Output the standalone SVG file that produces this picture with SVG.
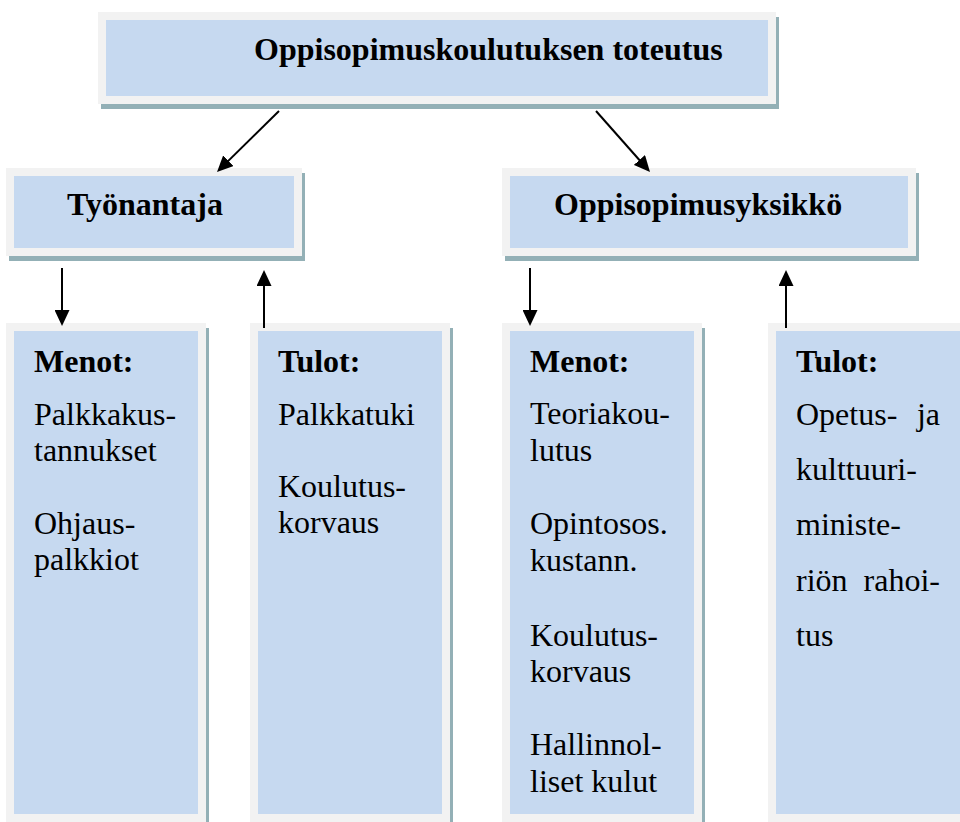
<svg xmlns="http://www.w3.org/2000/svg" width="960" height="822" viewBox="0 0 960 822">
<style>
.sh{fill:#93b0b6}
.out{fill:#f2f2f2}
.in{fill:#c6d9f0}
.t{font-family:"Times New Roman","Liberation Serif",Times,serif;font-size:32px;fill:#000}
.b{font-weight:bold}
.c line{stroke:#000;stroke-width:2}
</style>
<defs>
<marker id="ah" markerUnits="userSpaceOnUse" markerWidth="16" markerHeight="15" viewBox="0 0 16 15" refX="8" refY="7.5" orient="auto">
<path d="M0,0 L16,7.5 L0,15 z" fill="#000"/>
</marker>
</defs>
<rect width="960" height="822" fill="#fff"/>
<g class="t">
<g id="top">
<rect class="sh" x="101" y="17" width="678" height="92"/>
<rect class="out" x="98" y="12" width="678" height="92"/>
<rect class="in" x="106" y="20" width="662" height="76"/>
<text class="b" x="254" y="60">Oppisopimuskoulutuksen toteutus</text>
</g>
<g id="tyonantaja">
<rect class="sh" x="9" y="173" width="296" height="88"/>
<rect class="out" x="6" y="168" width="296" height="88"/>
<rect class="in" x="14" y="176" width="280" height="72"/>
<text class="b" x="67" y="215">Työnantaja</text>
</g>
<g id="yksikko">
<rect class="sh" x="505" y="173" width="414" height="88"/>
<rect class="out" x="502" y="168" width="414" height="88"/>
<rect class="in" x="510" y="176" width="398" height="72"/>
<text class="b" x="554" y="215">Oppisopimusyksikkö</text>
</g>
<g id="t-menot">
<rect class="sh" x="9" y="328" width="200" height="510"/>
<rect class="out" x="6" y="323" width="200" height="510"/>
<rect class="in" x="14" y="331" width="184" height="483"/>
<text class="b" x="34" y="372">Menot:</text>
<text x="34" y="425">Palkkakus-</text>
<text x="34" y="461">tannukset</text>
<text x="34" y="534">Ohjaus-</text>
<text x="34" y="570">palkkiot</text>
</g>
<g id="t-tulot">
<rect class="sh" x="253" y="328" width="200" height="510"/>
<rect class="out" x="250" y="323" width="200" height="510"/>
<rect class="in" x="258" y="331" width="184" height="483"/>
<text class="b" x="278" y="372">Tulot:</text>
<text x="278" y="425">Palkkatuki</text>
<text x="278" y="497">Koulutus-</text>
<text x="278" y="533">korvaus</text>
</g>
<g id="o-menot">
<rect class="sh" x="505" y="328" width="200" height="510"/>
<rect class="out" x="502" y="323" width="200" height="510"/>
<rect class="in" x="510" y="331" width="184" height="483"/>
<text class="b" x="530" y="372">Menot:</text>
<text x="530" y="424">Teoriakou-</text>
<text x="530" y="461">lutus</text>
<text x="530" y="534">Opintosos.</text>
<text x="530" y="571">kustann.</text>
<text x="530" y="646">Koulutus-</text>
<text x="530" y="682">korvaus</text>
<text x="530" y="755">Hallinnol-</text>
<text x="530" y="792">liset kulut</text>
</g>
<g id="o-tulot">
<rect class="sh" x="771" y="328" width="220" height="510"/>
<rect class="out" x="768" y="323" width="220" height="510"/>
<rect class="in" x="776" y="331" width="204" height="483"/>
<text class="b" x="796" y="372">Tulot:</text>
<text x="796" y="425">Opetus-</text>
<text x="940" y="425" text-anchor="end">ja</text>
<text x="796" y="480">kulttuuri-</text>
<text x="796" y="535">ministe-</text>
<text x="796" y="591">riön</text>
<text x="940" y="591" text-anchor="end">rahoi-</text>
<text x="796" y="646">tus</text>
</g>
</g>
<g id="connectors" class="c">
<line x1="279" y1="111" x2="222.7" y2="166.4" marker-end="url(#ah)"/>
<line x1="596" y1="111" x2="644.7" y2="166" marker-end="url(#ah)"/>
<line x1="62" y1="268" x2="62" y2="318" marker-end="url(#ah)"/>
<line x1="264" y1="328" x2="264" y2="278" marker-end="url(#ah)"/>
<line x1="530" y1="268" x2="530" y2="318" marker-end="url(#ah)"/>
<line x1="786" y1="328" x2="786" y2="278" marker-end="url(#ah)"/>
</g>
</svg>
